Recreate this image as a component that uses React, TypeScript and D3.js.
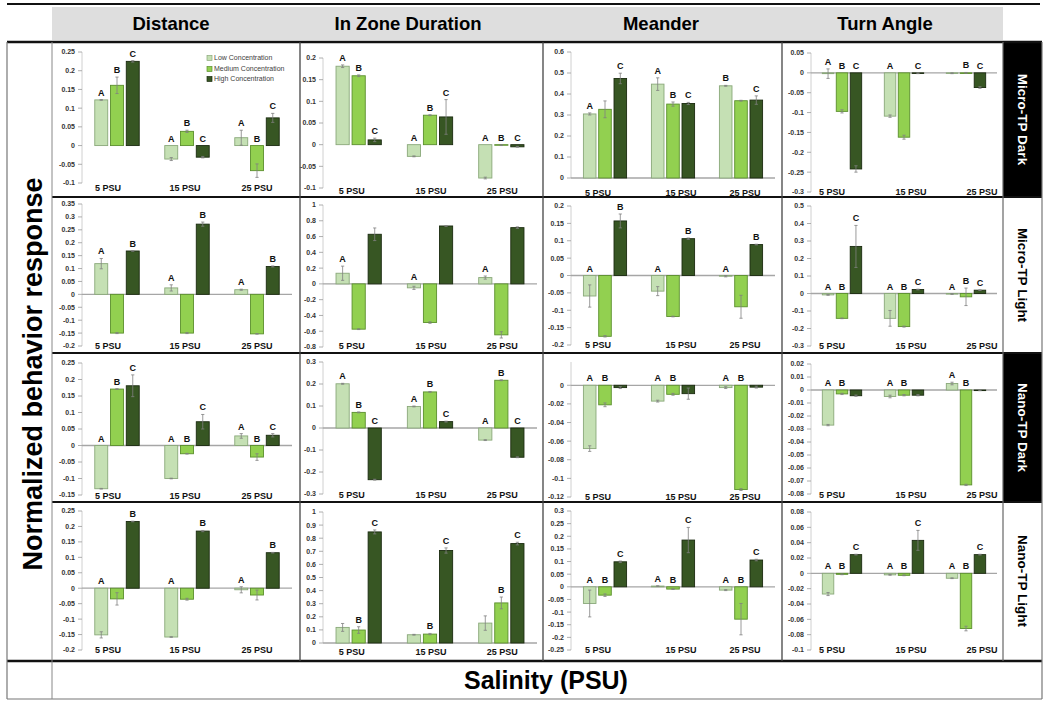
import React from 'react';
import * as d3 from 'd3';

// ---------- categories ----------
const salinityLevels = ['5 PSU', '15 PSU', '25 PSU'];
const concentrationLevels = ['Low Concentration', 'Medium Concentration', 'High Concentration'];
const metricNames = ['Distance', 'In Zone Duration', 'Meander', 'Turn Angle'];
const treatmentNames = ['Micro-TP Dark', 'Micro-TP Light', 'Nano-TP Dark', 'Nano-TP Light'];
const xAxisTitle = 'Salinity (PSU)';
const yAxisTitle = 'Normalized behavior response';

// ---------- data: [salinity][low, medium, high] ----------
// Micro-TP Dark
const distMicroDark = [[0.122, 0.161, 0.225], [-0.036, 0.038, -0.031], [0.021, -0.067, 0.074]];
const distMicroDarkErr = [[0.001, 0.022, 0.002], [0.004, 0.003, 0.002], [0.02, 0.018, 0.012]];
const distMicroDarkLetters = [['A', 'B', 'C'], ['A', 'B', 'C'], ['A', 'B', 'C']];
const distMicroDarkTicks = [0.25, 0.2, 0.15, 0.1, 0.05, 0, -0.05, -0.1];

const zoneMicroDark = [[0.181, 0.159, 0.011], [-0.027, 0.068, 0.064], [-0.077, -0.001, -0.005]];
const zoneMicroDarkErr = [[0.003, 0.002, 0.004], [0.001, 0.001, 0.04], [0.002, 0.001, 0.001]];
const zoneMicroDarkLetters = [['A', 'B', 'C'], ['A', 'B', 'C'], ['A', 'B', 'C']];
const zoneMicroDarkTicks = [0.2, 0.15, 0.1, 0.05, 0, -0.05, -0.1];

const meanderMicroDark = [[0.305, 0.327, 0.474], [0.447, 0.352, 0.355], [0.439, 0.368, 0.371]];
const meanderMicroDarkErr = [[0.005, 0.04, 0.025], [0.03, 0.01, 0.005], [0.002, 0.002, 0.02]];
const meanderMicroDarkLetters = [['A', '', 'C'], ['A', 'B', 'C'], ['B', '', 'C']];
const meanderMicroDarkTicks = [0.6, 0.5, 0.4, 0.3, 0.2, 0.1, 0];

const turnMicroDark = [[-0.002, -0.097, -0.242], [-0.109, -0.162, -0.001], [-0.001, 0.0, -0.037]];
const turnMicroDarkErr = [[0.012, 0.004, 0.008], [0.003, 0.005, 0.001], [0.001, 0.001, 0.002]];
const turnMicroDarkLetters = [['A', 'B', 'C'], ['A', '', 'C'], ['', 'B', 'C']];
const turnMicroDarkTicks = [0.05, 0, -0.05, -0.1, -0.15, -0.2, -0.25, -0.3];

// Micro-TP Light
const distMicroLight = [[0.119, -0.15, 0.168], [0.025, -0.15, 0.272], [0.018, -0.153, 0.108]];
const distMicroLightErr = [[0.02, 0.002, 0.001], [0.012, 0.002, 0.008], [0.002, 0.001, 0.002]];
const distMicroLightLetters = [['A', '', 'B'], ['A', '', 'B'], ['A', '', 'B']];
const distMicroLightTicks = [0.35, 0.3, 0.25, 0.2, 0.15, 0.1, 0.05, 0, -0.05, -0.1, -0.15, -0.2];

const zoneMicroLight = [[0.135, -0.574, 0.629], [-0.05, -0.49, 0.734], [0.08, -0.646, 0.713]];
const zoneMicroLightErr = [[0.09, 0.005, 0.08], [0.02, 0.01, 0.005], [0.02, 0.04, 0.01]];
const zoneMicroLightLetters = [['A', '', ''], ['A', '', ''], ['A', '', '']];
const zoneMicroLightTicks = [1, 0.8, 0.6, 0.4, 0.2, 0, -0.2, -0.4, -0.6, -0.8];

const meanderMicroLight = [[-0.059, -0.175, 0.157], [-0.045, -0.118, 0.106], [-0.002, -0.09, 0.089]];
const meanderMicroLightErr = [[0.032, 0.002, 0.02], [0.013, 0.001, 0.002], [0.002, 0.033, 0.001]];
const meanderMicroLightLetters = [['A', '', 'B'], ['A', '', 'B'], ['A', '', 'B']];
const meanderMicroLightTicks = [0.2, 0.15, 0.1, 0.05, 0, -0.05, -0.1, -0.15, -0.2];

const turnMicroLight = [[-0.008, -0.142, 0.269], [-0.142, -0.189, 0.023], [-0.003, -0.019, 0.019]];
const turnMicroLightErr = [[0.002, 0.002, 0.12], [0.045, 0.003, 0.002], [0.002, 0.05, 0.002]];
const turnMicroLightLetters = [['A', 'B', 'C'], ['A', 'B', 'C'], ['A', 'B', 'C']];
const turnMicroLightTicks = [0.5, 0.4, 0.3, 0.2, 0.1, 0, -0.1, -0.2, -0.3];

// Nano-TP Dark
const distNanoDark = [[-0.131, 0.171, 0.181], [-0.1, -0.025, 0.072], [0.029, -0.035, 0.031]];
const distNanoDarkErr = [[0.001, 0.001, 0.033], [0.001, 0.001, 0.022], [0.007, 0.01, 0.005]];
const distNanoDarkLetters = [['A', 'B', 'C'], ['A', 'B', 'C'], ['A', 'B', 'C']];
const distNanoDarkTicks = [0.25, 0.2, 0.15, 0.1, 0.05, 0, -0.05, -0.1, -0.15];

const zoneNanoDark = [[0.201, 0.071, -0.235], [0.098, 0.164, 0.029], [-0.055, 0.217, -0.133]];
const zoneNanoDarkErr = [[0.002, 0.002, 0.002], [0.002, 0.002, 0.002], [0.002, 0.002, 0.002]];
const zoneNanoDarkLetters = [['A', 'B', 'C'], ['A', 'B', 'C'], ['A', 'B', 'C']];
const zoneNanoDarkTicks = [0.3, 0.2, 0.1, 0, -0.1, -0.2, -0.3];

const meanderNanoDark = [[-0.068, -0.021, -0.0025], [-0.017, -0.0097, -0.009], [-0.0025, -0.112, -0.002]];
const meanderNanoDarkErr = [[0.003, 0.002, 0.001], [0.001, 0.001, 0.006], [0.001, 0.001, 0.001]];
const meanderNanoDarkLetters = [['A', 'B', ''], ['A', 'B', ''], ['A', 'B', '']];
const meanderNanoDarkTicks = [0, -0.02, -0.04, -0.06, -0.08, -0.1, -0.12];
const meanderNanoDarkDomain = [-0.12, 0.025];

const turnNanoDark = [[-0.027, -0.003, -0.0044], [-0.005, -0.004, -0.004], [0.005, -0.073, -0.0003]];
const turnNanoDarkErr = [[0.0005, 0.0005, 0.0005], [0.001, 0.0005, 0.0005], [0.001, 0.0005, 0.0002]];
const turnNanoDarkLetters = [['A', 'B', ''], ['A', 'B', ''], ['A', 'B', '']];
const turnNanoDarkTicks = [0.02, 0.01, 0, -0.01, -0.02, -0.03, -0.04, -0.05, -0.06, -0.07, -0.08];

// Nano-TP Light
const distNanoLight = [[-0.151, -0.0345, 0.216], [-0.158, -0.0356, 0.185], [-0.005, -0.022, 0.115]];
const distNanoLightErr = [[0.01, 0.02, 0.001], [0.001, 0.003, 0.002], [0.01, 0.016, 0.001]];
const distNanoLightLetters = [['A', '', 'B'], ['A', '', 'B'], ['A', '', 'B']];
const distNanoLightTicks = [0.25, 0.2, 0.15, 0.1, 0.05, 0, -0.05, -0.1, -0.15, -0.2];

const zoneNanoLight = [[0.119, 0.099, 0.848], [0.063, 0.068, 0.706], [0.152, 0.306, 0.759]];
const zoneNanoLightErr = [[0.03, 0.025, 0.015], [0.003, 0.005, 0.02], [0.055, 0.045, 0.01]];
const zoneNanoLightLetters = [['', 'B', 'C'], ['', 'B', 'C'], ['', 'B', 'C']];
const zoneNanoLightTicks = [1, 0.9, 0.8, 0.7, 0.6, 0.5, 0.4, 0.3, 0.2, 0.1, 0];

const meanderNanoLight = [[-0.066, -0.033, 0.099], [0.003, -0.009, 0.185], [-0.013, -0.128, 0.106]];
const meanderNanoLightErr = [[0.053, 0.005, 0.003], [0.001, 0.001, 0.05], [0.002, 0.062, 0.003]];
const meanderNanoLightLetters = [['A', 'B', 'C'], ['A', 'B', 'C'], ['A', 'B', 'C']];
const meanderNanoLightTicks = [0.3, 0.25, 0.2, 0.15, 0.1, 0.05, 0, -0.05, -0.1, -0.15, -0.2, -0.25];

const turnNanoLight = [[-0.027, -0.0013, 0.0244], [-0.002, -0.0026, 0.043], [-0.0064, -0.072, 0.0244]];
const turnNanoLightErr = [[0.002, 0.0005, 0.0005], [0.0005, 0.0005, 0.013], [0.0005, 0.003, 0.0005]];
const turnNanoLightLetters = [['A', 'B', 'C'], ['A', 'B', 'C'], ['A', 'B', 'C']];
const turnNanoLightTicks = [0.08, 0.06, 0.04, 0.02, 0, -0.02, -0.04, -0.06, -0.08, -0.1];

type PanelData = { values: number[][]; err: number[][]; letters: string[][]; ticks: number[]; domain?: number[] };
const mk = (values: number[][], err: number[][], letters: string[][], ticks: number[], domain?: number[]): PanelData =>
  ({ values, err, letters, ticks, domain });

const panels: PanelData[][] = [
  [mk(distMicroDark, distMicroDarkErr, distMicroDarkLetters, distMicroDarkTicks),
   mk(zoneMicroDark, zoneMicroDarkErr, zoneMicroDarkLetters, zoneMicroDarkTicks),
   mk(meanderMicroDark, meanderMicroDarkErr, meanderMicroDarkLetters, meanderMicroDarkTicks),
   mk(turnMicroDark, turnMicroDarkErr, turnMicroDarkLetters, turnMicroDarkTicks)],
  [mk(distMicroLight, distMicroLightErr, distMicroLightLetters, distMicroLightTicks),
   mk(zoneMicroLight, zoneMicroLightErr, zoneMicroLightLetters, zoneMicroLightTicks),
   mk(meanderMicroLight, meanderMicroLightErr, meanderMicroLightLetters, meanderMicroLightTicks),
   mk(turnMicroLight, turnMicroLightErr, turnMicroLightLetters, turnMicroLightTicks)],
  [mk(distNanoDark, distNanoDarkErr, distNanoDarkLetters, distNanoDarkTicks),
   mk(zoneNanoDark, zoneNanoDarkErr, zoneNanoDarkLetters, zoneNanoDarkTicks),
   mk(meanderNanoDark, meanderNanoDarkErr, meanderNanoDarkLetters, meanderNanoDarkTicks, meanderNanoDarkDomain),
   mk(turnNanoDark, turnNanoDarkErr, turnNanoDarkLetters, turnNanoDarkTicks)],
  [mk(distNanoLight, distNanoLightErr, distNanoLightLetters, distNanoLightTicks),
   mk(zoneNanoLight, zoneNanoLightErr, zoneNanoLightLetters, zoneNanoLightTicks),
   mk(meanderNanoLight, meanderNanoLightErr, meanderNanoLightLetters, meanderNanoLightTicks),
   mk(turnNanoLight, turnNanoLightErr, turnNanoLightLetters, turnNanoLightTicks)],
];

// ---------- layout (pixels) ----------
const W = 1050;
const H = 704;
const colBox = [[52, 300], [300, 543], [543, 782], [782, 1003]];
const colPlot = [[82, 292], [323, 537], [571, 775], [811, 997]];
const colLabelDx = [[-9, -2, 0], [-7, 1, 1], [-7, 8, 4], [-10, 7, 16]];
const rowBox = [[42, 197], [197, 353], [353, 502], [502, 660]];
// [top tick y, bottom tick y, category label y]
const panelY = [
  [[52, 183, 188], [58, 188, 191], [52, 178, 193], [53, 192, 192]],
  [[204, 346, 346], [205, 347, 346], [206, 345, 345], [206, 346, 346]],
  [[363, 495, 496], [362, 494, 495], [362, 497, 497], [364, 494, 495]],
  [[511, 650, 650], [512, 643, 652], [511, 650, 650], [512, 650, 650]],
];
const showZero = [[false, false, true, true], [true, true, true, true], [true, true, true, true], [true, true, true, true]];
const headerX = [171, 408, 661, 885];
const rowLabelBlack = [true, false, true, false];

const FONT = '"Liberation Sans", Arial, sans-serif';
const barFill = ['#c5e0b4', '#92d050', '#375623'];
const barStroke = ['#8aa87a', '#5b8f2d', '#1b2b10'];

const fmt = (v: number) => String(+v.toFixed(3));

function Panel({ r, c }: { r: number; c: number }) {
  const p = panels[r][c];
  const [x0, x1] = colPlot[c];
  const [yT, yB, labY] = panelY[r][c];
  const dom = p.domain ?? (d3.extent(p.ticks) as number[]);
  const y = d3.scaleLinear().domain(dom).range([yB, yT]);
  const xb = d3.scaleBand().domain(salinityLevels).range([x0, x1]);
  const step = xb.bandwidth();
  const pitch = step * 0.225;
  const bw = step * 0.185;
  const y0 = y(0);
  return (
    <g>
      <line x1={x0} x2={x0} y1={yT} y2={yB} stroke="#d0d0d0" strokeWidth={1} />
      {p.ticks.map((t, i) => (
        <g key={i}>
          <line x1={x0 - 4} x2={x0} y1={y(t)} y2={y(t)} stroke="#9a9a9a" strokeWidth={0.8} />
          <text x={x0 - 7} y={y(t)} dy="0.35em" textAnchor="end" fontSize={7} fontWeight="bold" fill="#333" fontFamily={FONT}>
            {fmt(t)}
          </text>
        </g>
      ))}
      {showZero[r][c] && <line x1={x0} x2={x1} y1={y0} y2={y0} stroke="#a6a6a6" strokeWidth={1.3} />}
      {salinityLevels.map((s, gi) => {
        const cx = (xb(s) as number) + step / 2;
        return (
          <g key={s}>
            {p.values[gi].map((v, i) => {
              const bx = cx + (i - 1) * pitch - bw / 2;
              const yv = y(v);
              const e = p.err[gi][i];
              const ex = bx + bw / 2;
              const top = Math.max(0, v + e);
              const letter = p.letters[gi][i];
              return (
                <g key={i}>
                  <rect x={bx} y={Math.min(yv, y0)} width={bw} height={Math.max(0.6, Math.abs(yv - y0))}
                    fill={barFill[i]} stroke={barStroke[i]} strokeWidth={0.9} />
                  <line x1={ex} x2={ex} y1={y(v - e)} y2={y(v + e)} stroke="#808080" strokeWidth={0.8} />
                  <line x1={ex - 1.6} x2={ex + 1.6} y1={y(v - e)} y2={y(v - e)} stroke="#808080" strokeWidth={0.8} />
                  <line x1={ex - 1.6} x2={ex + 1.6} y1={y(v + e)} y2={y(v + e)} stroke="#808080" strokeWidth={0.8} />
                  {letter && (
                    <text x={ex} y={y(top) - 4} textAnchor="middle" fontSize={9} fontWeight="bold" fill="#111" fontFamily={FONT}>
                      {letter}
                    </text>
                  )}
                </g>
              );
            })}
            <text x={cx + colLabelDx[c][gi]} y={labY} dy="0.35em" textAnchor="middle" fontSize={9} fontWeight="bold" fill="#111" fontFamily={FONT}>
              {s}
            </text>
          </g>
        );
      })}
    </g>
  );
}

function Legend() {
  const lx = 207;
  const ly = [58, 69, 79];
  return (
    <g>
      {concentrationLevels.map((name, i) => (
        <g key={name}>
          <rect x={lx} y={ly[i] - 2.5} width={5} height={5} fill={barFill[i]} stroke={barStroke[i]} strokeWidth={0.7} />
          <text x={lx + 7} y={ly[i]} dy="0.35em" fontSize={7} fill="#404040" fontFamily={FONT}>{name}</text>
        </g>
      ))}
    </g>
  );
}

export default function App() {
  return (
    <div style={{ position: 'absolute', left: 0, top: 0 }}>
      <svg width={W} height={H} style={{ display: 'block', background: '#fff' }}>
        <rect x={0} y={0} width={W} height={H} fill="#fff" />
        {/* header */}
        <rect x={52} y={7} width={951} height={33} fill="#dedede" />
        {metricNames.map((m, i) => (
          <text key={m} x={headerX[i]} y={24} dy="0.35em" textAnchor="middle" fontSize={18.5} fontWeight="bold" fill="#000" fontFamily={FONT}>
            {m}
          </text>
        ))}
        {/* row label boxes */}
        {treatmentNames.map((t, r) => {
          const [t0, t1] = rowBox[r];
          const cy = (t0 + t1) / 2;
          return (
            <g key={t}>
              <rect x={1003} y={t0} width={39} height={t1 - t0} fill={rowLabelBlack[r] ? '#000' : '#fff'} />
              <text x={1022.5} y={cy} dy="0.35em" textAnchor="middle" fontSize={13.5} fontWeight="bold"
                fill={rowLabelBlack[r] ? '#fff' : '#000'} fontFamily={FONT} transform={`rotate(90 1022.5 ${cy})`}>
                {t}
              </text>
            </g>
          );
        })}
        {/* panels */}
        {panels.map((row, r) => row.map((_, c) => <Panel key={`${r}-${c}`} r={r} c={c} />))}
        <Legend />
        {/* axis titles */}
        <text x={33} y={374} dy="0.35em" textAnchor="middle" fontSize={27} fontWeight="bold" fill="#000" fontFamily={FONT}
          transform="rotate(-90 33 374)">
          {yAxisTitle}
        </text>
        <text x={546} y={680} dy="0.35em" textAnchor="middle" fontSize={25} fontWeight="bold" fill="#000" fontFamily={FONT}>
          {xAxisTitle}
        </text>
        {/* frame */}
        <line x1={7} x2={1040} y1={4} y2={4} stroke="#111" strokeWidth={2} />
        <line x1={7} x2={1042} y1={42} y2={42} stroke="#111" strokeWidth={2.5} />
        {rowBox.slice(1).map(([t0]) => (
          <line key={t0} x1={52} x2={1042} y1={t0} y2={t0} stroke="#111" strokeWidth={2} />
        ))}
        <line x1={7} x2={1042} y1={661} y2={661} stroke="#111" strokeWidth={2.5} />
        <line x1={7} x2={1042} y1={699} y2={699} stroke="#777" strokeWidth={1.2} />
        <line x1={7} x2={7} y1={42} y2={699} stroke="#777" strokeWidth={1.2} />
        <line x1={52} x2={52} y1={42} y2={699} stroke="#888" strokeWidth={1} />
        {colBox.slice(1).map(([b0]) => (
          <line key={b0} x1={b0} x2={b0} y1={42} y2={661} stroke="#444" strokeWidth={1.3} />
        ))}
        <line x1={1003} x2={1003} y1={42} y2={661} stroke="#666" strokeWidth={1.2} />
        <line x1={1042} x2={1042} y1={42} y2={699} stroke="#777" strokeWidth={1.2} />
      </svg>
    </div>
  );
}
